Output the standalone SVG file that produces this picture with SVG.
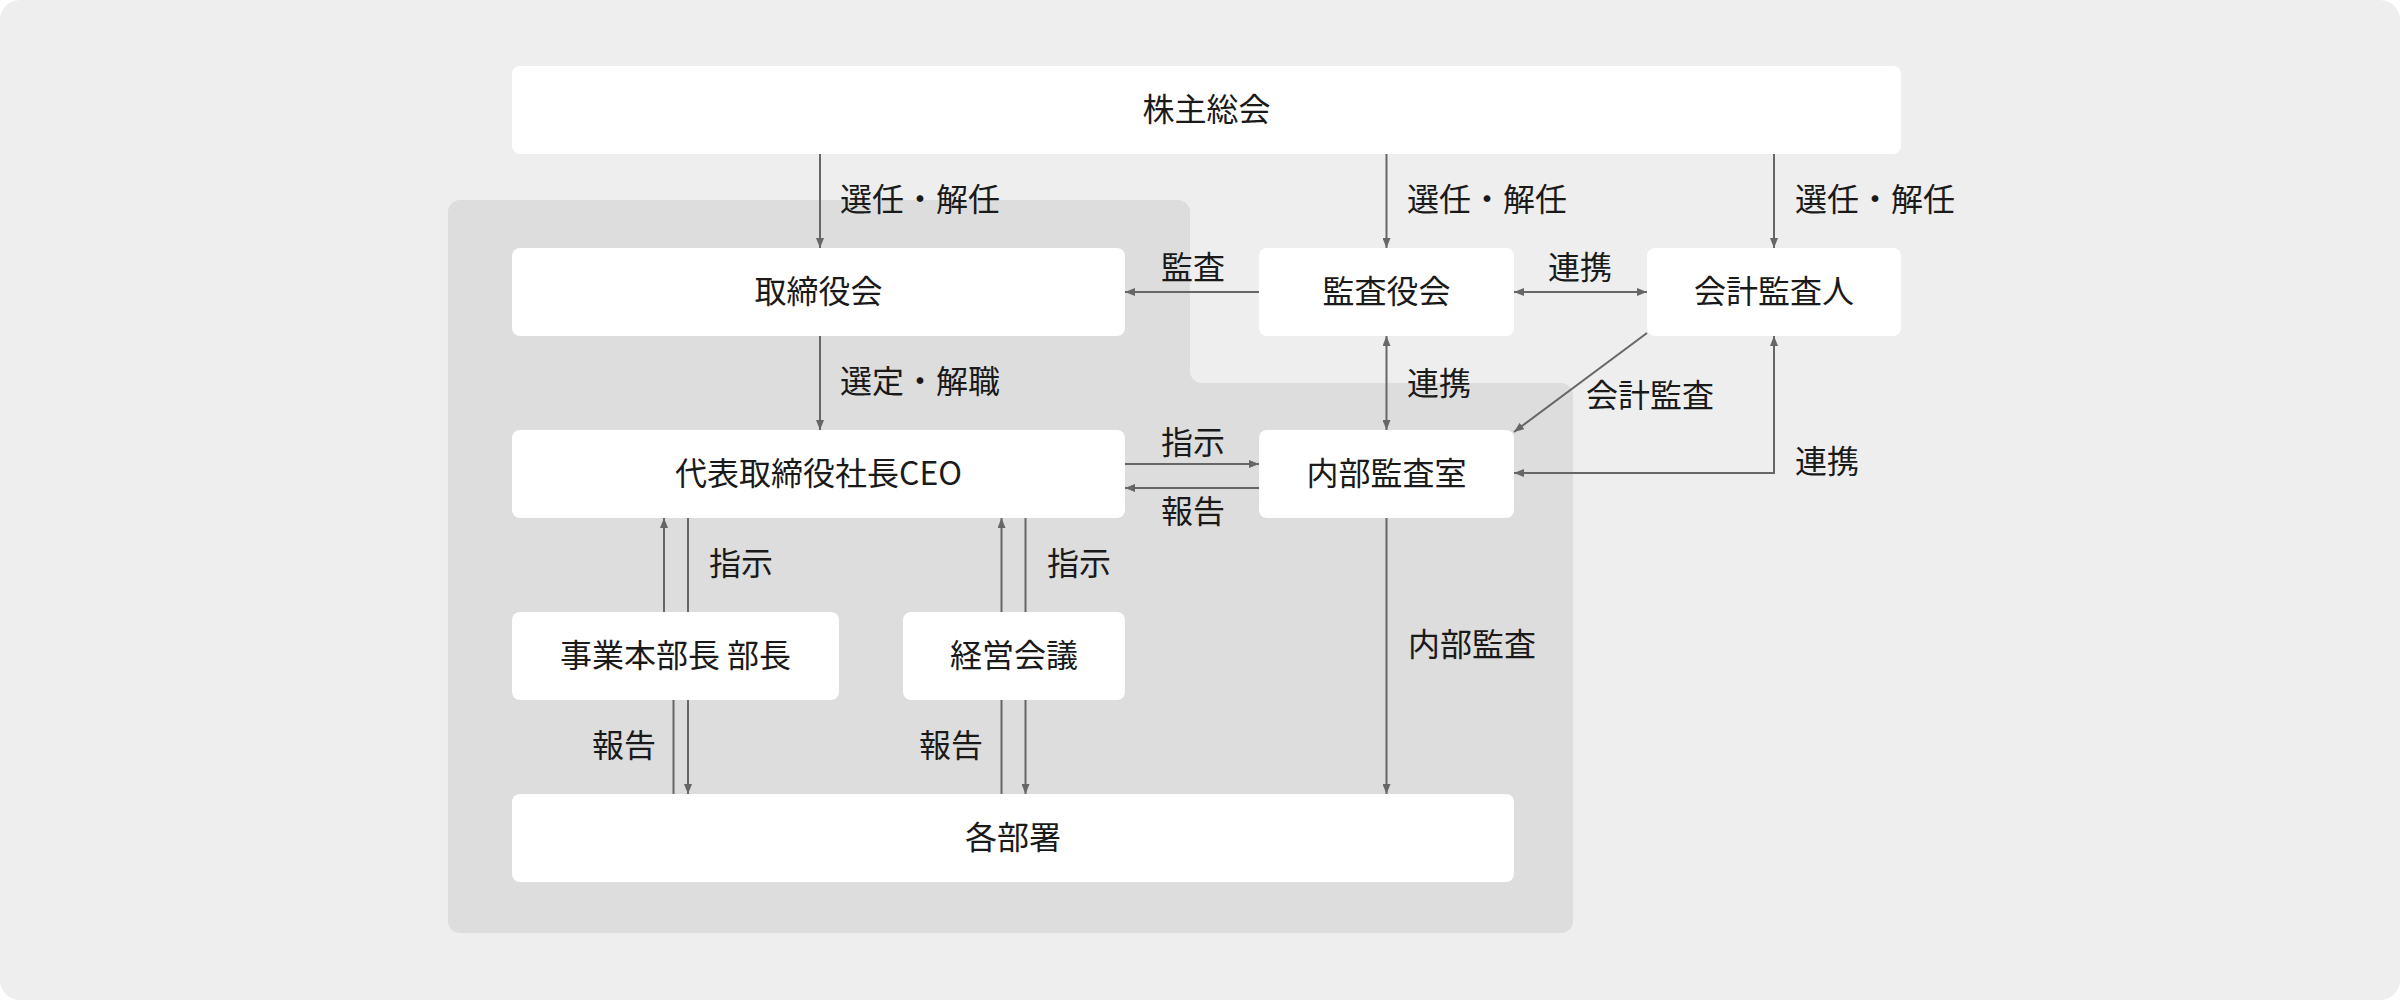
<svg xmlns="http://www.w3.org/2000/svg" width="2400" height="1000" viewBox="0 0 2400 1000">
  <defs>
    <marker id="arr" viewBox="0 0 10 8" refX="10" refY="4" markerWidth="10" markerHeight="8" markerUnits="userSpaceOnUse" orient="auto-start-reverse">
      <path d="M0,0 L10,4 L0,8 Z" fill="#666666"/>
    </marker>
    <style>
      .node rect { fill: #ffffff; }
      .node text, .lbl { font-family: "Noto Sans CJK JP", "Noto Sans", sans-serif; font-size: 32px; fill: #1a1a1a; dominant-baseline: central; }
      .node text { text-anchor: middle; }
      .c { fill: none; stroke: #666666; stroke-width: 2; }
      .e { marker-end: url(#arr); }
      .b { marker-start: url(#arr); marker-end: url(#arr); }
    </style>
  </defs>

  <rect x="0" y="0" width="2400" height="1000" fill="#ffffff"/>
  <rect x="0" y="0" width="2400" height="1000" rx="20" ry="20" fill="#eeeeee"/>
  <path d="M460,200 H1178 A12,12 0 0 1 1190,212 V371 A12,12 0 0 0 1202,383 H1561 A12,12 0 0 1 1573,395 V921 A12,12 0 0 1 1561,933 H460 A12,12 0 0 1 448,921 V212 A12,12 0 0 1 460,200 Z" fill="#dddddd"/>

  <g id="connectors">
    <line class="c e" x1="820" y1="154" x2="820" y2="248"/>
    <line class="c e" x1="1386.5" y1="154" x2="1386.5" y2="248"/>
    <line class="c e" x1="1774" y1="154" x2="1774" y2="248"/>
    <line class="c e" x1="1259" y1="292" x2="1125" y2="292"/>
    <line class="c b" x1="1514" y1="292" x2="1647" y2="292"/>
    <line class="c e" x1="820" y1="336" x2="820" y2="430"/>
    <line class="c b" x1="1386.5" y1="336" x2="1386.5" y2="430"/>
    <line class="c e" x1="1647" y1="333" x2="1514" y2="432"/>
    <polyline class="c b" points="1774,336 1774,473 1514,473"/>
    <line class="c e" x1="1125" y1="464" x2="1259" y2="464"/>
    <line class="c e" x1="1259" y1="488" x2="1125" y2="488"/>
    <line class="c e" x1="664" y1="612" x2="664" y2="518"/>
    <path class="c e" d="M688,518 V612 M688,700 V794"/>
    <line class="c" x1="673.5" y1="794" x2="673.5" y2="700"/>
    <line class="c e" x1="1001.5" y1="612" x2="1001.5" y2="518"/>
    <line class="c" x1="1001.5" y1="794" x2="1001.5" y2="700"/>
    <path class="c e" d="M1025.5,518 V612 M1025.5,700 V794"/>
    <line class="c e" x1="1386.5" y1="518" x2="1386.5" y2="794"/>

    <text class="lbl" x="840" y="197">選任・解任</text>
    <text class="lbl" x="1407" y="197">選任・解任</text>
    <text class="lbl" x="1795" y="197">選任・解任</text>
    <text class="lbl" x="1161" y="265">監査</text>
    <text class="lbl" x="1548" y="265">連携</text>
    <text class="lbl" x="840" y="379">選定・解職</text>
    <text class="lbl" x="1407" y="381">連携</text>
    <text class="lbl" x="1586" y="393">会計監査</text>
    <text class="lbl" x="1161" y="440">指示</text>
    <text class="lbl" x="1161" y="509">報告</text>
    <text class="lbl" x="1795" y="459">連携</text>
    <text class="lbl" x="709" y="561">指示</text>
    <text class="lbl" x="1047" y="561">指示</text>
    <text class="lbl" x="592" y="743">報告</text>
    <text class="lbl" x="919" y="743">報告</text>
    <text class="lbl" x="1408" y="642">内部監査</text>
  </g>

  <g id="node-shareholders" class="node">
    <rect x="512" y="66" width="1389" height="88" rx="8"/>
    <text x="1206.5" y="107">株主総会</text>
  </g>
  <g id="node-board" class="node">
    <rect x="512" y="248" width="613" height="88" rx="8"/>
    <text x="818.5" y="289">取締役会</text>
  </g>
  <g id="node-auditboard" class="node">
    <rect x="1259" y="248" width="255" height="88" rx="8"/>
    <text x="1386.5" y="289">監査役会</text>
  </g>
  <g id="node-accountant" class="node">
    <rect x="1647" y="248" width="254" height="88" rx="8"/>
    <text x="1774" y="289">会計監査人</text>
  </g>
  <g id="node-ceo" class="node">
    <rect x="512" y="430" width="613" height="88" rx="8"/>
    <text x="818.5" y="471">代表取締役社長CEO</text>
  </g>
  <g id="node-internalaudit" class="node">
    <rect x="1259" y="430" width="255" height="88" rx="8"/>
    <text x="1386.5" y="471">内部監査室</text>
  </g>
  <g id="node-division" class="node">
    <rect x="512" y="612" width="327" height="88" rx="8"/>
    <text x="675.5" y="653">事業本部長 部長</text>
  </g>
  <g id="node-mgmt" class="node">
    <rect x="903" y="612" width="222" height="88" rx="8"/>
    <text x="1014" y="653">経営会議</text>
  </g>
  <g id="node-depts" class="node">
    <rect x="512" y="794" width="1002" height="88" rx="8"/>
    <text x="1013" y="835">各部署</text>
  </g>
</svg>
